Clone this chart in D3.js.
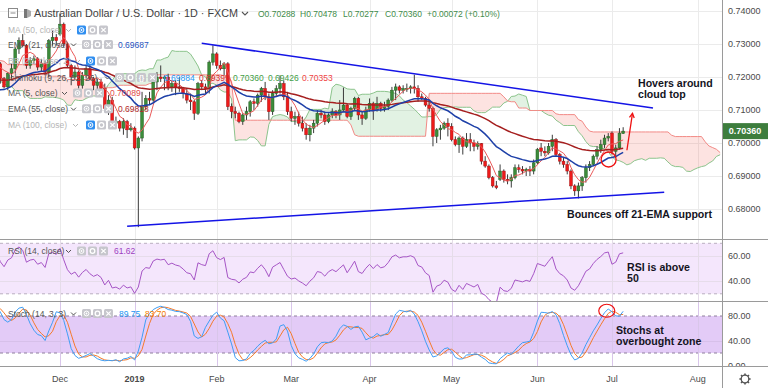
<!DOCTYPE html>
<html><head><meta charset="utf-8">
<script src="https://cdn.jsdelivr.net/npm/d3@7"></script>
<style>
html,body{margin:0;padding:0;background:#fff;}
svg{display:block;font-family:"Liberation Sans",Arial,sans-serif;}
</style></head><body>
<svg id="chart" width="768" height="388"></svg>
<script>
// ---------------- DATA ----------------
const startDate = "2018-07-16";
const holidays = ["2018-12-25", "2019-01-01"];
// daily AUD/USD bars [open, high, low, close]
const ohlc = [
[.7415,.7430,.7395,.7420],[.7420,.7440,.7375,.7385],[.7385,.7420,.7370,.7395],[.7395,.7420,.7310,.7350],[.7350,.7430,.7345,.7425],
[.7425,.7430,.7390,.7420],[.7420,.7430,.7400,.7410],[.7410,.7440,.7395,.7430],[.7430,.7440,.7395,.7400],[.7400,.7410,.7375,.7390],
[.7390,.7410,.7380,.7400],[.7400,.7425,.7390,.7425],[.7425,.7430,.7400,.7405],[.7405,.7410,.7360,.7390],[.7390,.7420,.7380,.7400],
[.7400,.7405,.7370,.7385],[.7385,.7430,.7380,.7420],[.7420,.7435,.7400,.7410],[.7410,.7420,.7370,.7385],[.7385,.7390,.7300,.7310],
[.7310,.7320,.7265,.7290],[.7290,.7300,.7250,.7260],[.7260,.7270,.7200,.7240],[.7240,.7270,.7225,.7260],[.7260,.7320,.7255,.7310],
[.7310,.7335,.7300,.7325],[.7325,.7360,.7320,.7350],[.7350,.7360,.7315,.7335],[.7335,.7340,.7260,.7270],[.7270,.7335,.7240,.7320],
[.7320,.7335,.7310,.7325],[.7325,.7360,.7320,.7355],[.7355,.7365,.7310,.7330],[.7330,.7335,.7255,.7260],[.7260,.7265,.7185,.7190],
[.7190,.7205,.7185,.7195],[.7195,.7200,.7165,.7185],[.7185,.7195,.7145,.7170],[.7170,.7200,.7155,.7195],[.7195,.7200,.7120,.7120],
[.7120,.7140,.7100,.7130],[.7130,.7140,.7085,.7105],[.7105,.7180,.7100,.7175],[.7175,.7205,.7160,.7190],[.7190,.7210,.7150,.7160],
[.7160,.7175,.7145,.7170],[.7170,.7225,.7160,.7220],[.7220,.7255,.7205,.7250],[.7250,.7295,.7240,.7285],[.7285,.7315,.7270,.7275],
[.7275,.7280,.7225,.7265],[.7265,.7290,.7255,.7280],[.7280,.7295,.7250,.7285],[.7285,.7290,.7200,.7210],[.7210,.7240,.7205,.7225],
[.7225,.7240,.7200,.7235],[.7235,.7240,.7160,.7170],[.7170,.7175,.7110,.7115],[.7115,.7125,.7060,.7075],[.7075,.7090,.7055,.7065],
[.7065,.7070,.7040,.7050],[.7050,.7090,.7040,.7080],[.7080,.7095,.7065,.7075],[.7075,.7125,.7060,.7115],[.7115,.7140,.7110,.7120],
[.7120,.7145,.7110,.7140],[.7140,.7145,.7105,.7135],[.7135,.7145,.7095,.7100],[.7100,.7125,.7075,.7085],[.7085,.7120,.7080,.7110],
[.7110,.7115,.7095,.7100],[.7100,.7105,.7055,.7080],[.7080,.7105,.7055,.7065],[.7065,.7095,.7050,.7085],[.7085,.7095,.7040,.7070],
[.7070,.7090,.7050,.7060],[.7060,.7075,.7020,.7050],[.7050,.7095,.7040,.7085],[.7085,.7195,.7080,.7190],[.7190,.7235,.7175,.7205],
[.7205,.7230,.7190,.7215],[.7215,.7250,.7195,.7240],[.7240,.7260,.7205,.7255],[.7255,.7265,.7225,.7240],
[.7240,.7245,.7180,.7195],
[.7195,.7200,.7165,.7170],[.7170,.7215,.7160,.7210],[.7210,.7240,.7195,.7225],[.7225,.7290,.7210,.7285],[.7285,.7320,.7270,.7310],
[.7310,.7330,.7290,.7295],[.7295,.7300,.7225,.7235],[.7235,.7260,.7225,.7250],[.7250,.7265,.7240,.7255],[.7255,.7260,.7220,.7230],
[.7230,.7255,.7215,.7240],[.7240,.7250,.7205,.7215],[.7215,.7315,.7200,.7310],[.7310,.7340,.7295,.7320],[.7320,.7330,.7295,.7310],
[.7330,.7393,.7325,.7360],[.7360,.7365,.7290,.7300],[.7300,.7305,.7230,.7235],[.7235,.7240,.7175,.7200],[.7200,.7235,.7195,.7215],
[.7215,.7220,.7165,.7175],[.7175,.7215,.7165,.7205],[.7205,.7235,.7195,.7225],[.7225,.7240,.7190,.7195],[.7195,.7200,.7160,.7175],
[.7175,.7195,.7155,.7185],[.7185,.7195,.7150,.7165],[.7165,.7180,.7095,.7105],[.7105,.7145,.7085,.7130],[.7130,.7140,.7045,.7060],
[.7060,.7080,.7045,.7065],[.7065,.7070,.7035,.7045],[.7045,.7075,.7025,.7065],[.7065,.7070,.7015,.7040],
[.7040,.7060,.7035,.7045],
[.7045,.7050,.6980,.6985],[.6985,.7020,.6745,.7015],[.7015,.7155,.7005,.7110],
[.7110,.7145,.7100,.7135],[.7135,.7155,.7115,.7130],[.7130,.7190,.7125,.7185],[.7185,.7215,.7160,.7200],[.7200,.7235,.7185,.7195],
[.7195,.7205,.7160,.7200],[.7200,.7210,.7160,.7170],[.7170,.7190,.7155,.7180],[.7180,.7190,.7145,.7170],[.7170,.7200,.7155,.7165],
[.7165,.7170,.7135,.7150],[.7150,.7165,.7120,.7130],[.7130,.7150,.7100,.7125],[.7125,.7130,.7070,.7090],[.7090,.7185,.7085,.7180],
[.7180,.7190,.7160,.7170],[.7170,.7180,.7150,.7165],[.7165,.7250,.7150,.7245],[.7245,.7296,.7235,.7270],[.7270,.7275,.7225,.7235],
[.7235,.7250,.7220,.7225],[.7225,.7245,.7205,.7240],[.7240,.7245,.7100,.7110],[.7110,.7120,.7075,.7095],[.7095,.7110,.7075,.7090],
[.7090,.7095,.7060,.7065],[.7065,.7090,.7055,.7085],[.7085,.7110,.7070,.7095],[.7095,.7130,.7080,.7125],[.7125,.7135,.7100,.7120],
[.7120,.7150,.7110,.7145],[.7145,.7170,.7125,.7165],[.7165,.7185,.7130,.7140],[.7140,.7150,.7070,.7095],[.7095,.7160,.7085,.7150],
[.7150,.7175,.7140,.7165],[.7165,.7205,.7150,.7180],[.7180,.7190,.7130,.7140],[.7140,.7155,.7085,.7095],[.7095,.7110,.7065,.7075],
[.7075,.7095,.7055,.7080],[.7080,.7095,.7050,.7060],[.7060,.7080,.7035,.7045],[.7045,.7060,.7010,.7025],[.7025,.7055,.7005,.7045],
[.7045,.7070,.7030,.7060],[.7060,.7100,.7050,.7090],[.7090,.7100,.7075,.7085],[.7085,.7095,.7055,.7065],[.7065,.7090,.7060,.7085],
[.7085,.7105,.7075,.7095],[.7095,.7100,.7075,.7085],[.7085,.7130,.7070,.7100],[.7100,.7168,.7095,.7115],[.7115,.7120,.7075,.7080],
[.7080,.7110,.7070,.7105],[.7105,.7140,.7100,.7135],[.7135,.7140,.7070,.7085],[.7085,.7095,.7055,.7075],[.7075,.7110,.7070,.7100],
[.7100,.7135,.7095,.7120],[.7120,.7125,.7070,.7100],[.7100,.7140,.7095,.7120],[.7120,.7125,.7095,.7105],[.7105,.7125,.7095,.7110],
[.7110,.7135,.7100,.7130],[.7130,.7170,.7125,.7160],[.7160,.7180,.7130,.7170],[.7170,.7175,.7150,.7160],[.7160,.7175,.7150,.7165],
[.7165,.7180,.7155,.7165],[.7165,.7175,.7150,.7170],[.7170,.7207,.7150,.7165],[.7165,.7175,.7125,.7140],[.7140,.7150,.7130,.7135],
[.7135,.7140,.7110,.7115],[.7115,.7130,.7095,.7105],[.7105,.7110,.6990,.7020],[.7020,.7045,.7000,.7040],[.7040,.7055,.7010,.7045],
[.7045,.7065,.7040,.7060],[.7060,.7075,.7020,.7050],[.7050,.7060,.7005,.7010],[.7010,.7020,.6990,.6995],[.6995,.7020,.6970,.7015],
[.7015,.7020,.6965,.6990],[.6990,.7030,.6985,.7010],[.7010,.7030,.6975,.7000],[.7000,.7010,.6975,.6990],[.6990,.7005,.6980,.6998],
[.6998,.7000,.6935,.6945],[.6945,.6960,.6925,.6930],[.6930,.6935,.6890,.6895],[.6895,.6900,.6865,.6870],[.6870,.6885,.6860,.6865],
[.6890,.6935,.6885,.6915],[.6915,.6920,.6880,.6890],[.6890,.6905,.6875,.6885],[.6885,.6905,.6865,.6895],[.6895,.6935,.6890,.6925],
[.6925,.6935,.6910,.6920],[.6920,.6930,.6905,.6915],[.6915,.6925,.6900,.6920],[.6920,.6930,.6900,.6915],[.6915,.6950,.6905,.6940],
[.6940,.6985,.6935,.6980],[.6985,.7000,.6960,.6975],[.6975,.6990,.6960,.6970],[.6970,.7000,.6965,.6990],[.6990,.7025,.6975,.7010],
[.7010,.7015,.6960,.6965],[.6965,.6970,.6935,.6945],[.6945,.6955,.6925,.6935],[.6935,.6945,.6905,.6915],[.6915,.6920,.6860,.6870],
[.6870,.6875,.6840,.6855],[.6855,.6880,.6832,.6870],[.6870,.6900,.6855,.6895],[.6895,.6935,.6880,.6925],[.6925,.6945,.6915,.6935],
[.6935,.6965,.6930,.6960],[.6960,.6990,.6950,.6980],[.6980,.7010,.6970,.6995],[.6995,.7025,.6985,.7015],[.7015,.7030,.7005,.7020],
[.7030,.7035,.6965,.6975],[.6975,.6995,.6955,.6985],[.6985,.7045,.6980,.7030],[.70288,.70478,.70277,.70360]
];
const firstVisibleDate = "2018-11-09";
const lastAxisDate = "2019-08-01";
const priceTicks = [0.74, 0.73, 0.72, 0.71, 0.70, 0.69, 0.68];
const rsiTicks = [60, 40];
const rsiBand = [70, 30];
const stochTicks = [80, 40, 0];
const stochBand = [80, 20];
const monthTicks = [
  {label:"Dec", date:"2018-12-03"}, {label:"2019", date:"2019-01-02", bold:true},
  {label:"Feb", date:"2019-02-01"}, {label:"Mar", date:"2019-03-01"},
  {label:"Apr", date:"2019-04-01"}, {label:"May", date:"2019-05-01"},
  {label:"Jun", date:"2019-06-03"}, {label:"Jul", date:"2019-07-01"},
  {label:"Aug", date:"2019-08-01"}
];
const trendLines = [
  {d1:"2019-01-28", p1:0.7302, d2:"2019-07-16", p2:0.7106},
  {d1:"2018-12-28", p1:0.6748, d2:"2019-07-19", p2:0.6851}
];
const arrowUp = {d1:"2019-07-05", p1:0.6978, d2:"2019-07-08", p2:0.7090, dx2:0.5};
const circleMain = {date:"2019-07-01", dx:-0.9, price:0.6950};
const circleStoch = {date:"2019-06-28", dx:-0.4, value:88.5};
const headerTitle = "Australian Dollar / U.S. Dollar · 1D · FXCM";
const headerOHLC = [["O0.70288",258],["H0.70478",300],["L0.70277",343],["C0.70360",385],["+0.00072 (+0.10%)",427]];
const notes = [
  {lines:["Hovers around","cloud top"], x:638, y:87},
  {lines:["Bounces off 21-EMA support"], x:567, y:218},
  {lines:["RSI is above","50"], x:627, y:271},
  {lines:["Stochs at","overbought zone"], x:616, y:334}
];

// ---------------- DATES ----------------
const pad = n => String(n).padStart(2,"0");
const iso = d => d.getUTCFullYear()+"-"+pad(d.getUTCMonth()+1)+"-"+pad(d.getUTCDate());
const dates = [];
{
  let d = new Date(startDate+"T00:00:00Z");
  while (dates.length < ohlc.length + 40) {
    const wd = d.getUTCDay();
    if (wd !== 0 && wd !== 6 && !holidays.includes(iso(d))) dates.push(iso(d));
    d = new Date(d.getTime() + 86400000);
  }
}
const idx = s => dates.indexOf(s);
const N = ohlc.length;

// ---------------- INDICATORS ----------------
const closes = ohlc.map(d => d[3]);
function smaN(arr, n){ return arr.map((v,i)=>{ if(i<n-1) return null; const w=arr.slice(i-n+1,i+1); if(w.some(x=>x==null)) return null; return d3.mean(w); }); }
function emaN(arr, n){ const k=2/(n+1); let prev=null; return arr.map((v,i)=>{ if(i<n-1) return null; if(prev===null) prev=d3.mean(arr.slice(0,n)); else prev=v*k+prev*(1-k); return prev; }); }
function rsiN(arr, n){ const out=Array(arr.length).fill(null); let ag=0, al=0;
  for(let i=1;i<arr.length;i++){ const ch=arr[i]-arr[i-1]; const g=Math.max(ch,0), l=Math.max(-ch,0);
    if(i<=n){ ag+=g/n; al+=l/n; if(i===n) out[i]=100-100/(1+ag/al); }
    else { ag=(ag*(n-1)+g)/n; al=(al*(n-1)+l)/n; out[i]= al===0?100:100-100/(1+ag/al); } }
  return out; }
const ma5 = smaN(closes,5), ema21 = emaN(closes,21), ema55 = emaN(closes,55);
const rsi = rsiN(closes,14);
const stRaw = ohlc.map((d,i)=>{ if(i<13) return null; const w=ohlc.slice(i-13,i+1); const hh=d3.max(w,e=>e[1]), ll=d3.min(w,e=>e[2]); return 100*(d[3]-ll)/(hh-ll); });
const stK = smaN(stRaw,3), stD = smaN(stK,3);
const midHL = (i,n)=>{ if(i<n-1) return null; const w=ohlc.slice(i-n+1,i+1); return (d3.max(w,e=>e[1])+d3.min(w,e=>e[2]))/2; };
const SHIFT = 26;
const leadA = Array(N+SHIFT).fill(null), leadB = Array(N+SHIFT).fill(null);
for(let i=0;i<N;i++){ const c=midHL(i,9), b=midHL(i,26), s=midHL(i,52);
  if(c!=null && b!=null) leadA[i+SHIFT]=(c+b)/2; if(s!=null) leadB[i+SHIFT]=s; }

// ---------------- SCALES ----------------
const W = 768, PR = 722;
const x = d3.scaleLinear().domain([idx(firstVisibleDate)-0.09, idx(lastAxisDate)+6.5]).range([0, PR]);
const y = d3.scaleLinear().domain([0.68, 0.74]).range([209, 11]);
const yR = d3.scaleLinear().domain([30, 70]).range([293.8, 243.3]);
const yS = d3.scaleLinear().domain([20, 80]).range([353, 316]);
const MAIN = [0, 239], RSIP = [240, 301], STP = [302, 366];

const svg = d3.select("#chart");
const defs = svg.append("defs");
function clip(id, y0, y1, x0=0, x1=PR){ defs.append("clipPath").attr("id",id).append("rect").attr("x",x0).attr("y",y0).attr("width",x1-x0).attr("height",y1-y0); }
clip("cMain", MAIN[0], MAIN[1]); clip("cRsi", RSIP[0], RSIP[1]); clip("cSt", STP[0], STP[1]);
clip("cStAxis", STP[0], STP[1], PR, W);

const GRID = "#ebebeb", SEP = "#9a9a9a", AX = "#4a4a4a";

// grid verticals
const gridG = svg.append("g");
monthTicks.forEach(t => {
  const gx = Math.round(x(idx(t.date)))+0.5;
  gridG.append("line").attr("x1",gx).attr("x2",gx).attr("y1",0).attr("y2",366).attr("stroke",GRID);
});
priceTicks.forEach(p => { const gy=Math.round(y(p))+0.5; gridG.append("line").attr("x1",0).attr("x2",PR).attr("y1",gy).attr("y2",gy).attr("stroke",GRID); });

// ---------------- MAIN PANE ----------------
const main = svg.append("g").attr("clip-path","url(#cMain)");
const cloudIdx = d3.range(N+SHIFT).filter(i => leadA[i]!=null && leadB[i]!=null && i >= idx(firstVisibleDate)-2);
main.append("path").datum(cloudIdx).attr("fill","rgba(76,175,80,0.16)")
  .attr("d", d3.area().x(i=>x(i)).y0(i=>y(leadB[i])).y1(i=>y(Math.max(leadA[i],leadB[i]))));
main.append("path").datum(cloudIdx).attr("fill","rgba(244,67,54,0.15)")
  .attr("d", d3.area().x(i=>x(i)).y0(i=>y(leadA[i])).y1(i=>y(Math.max(leadA[i],leadB[i]))));
main.append("path").datum(cloudIdx).attr("fill","none").attr("stroke","#8cc48c").attr("stroke-width",1)
  .attr("d", d3.line().x(i=>x(i)).y(i=>y(leadA[i])));
main.append("path").datum(cloudIdx).attr("fill","none").attr("stroke","#f28a86").attr("stroke-width",1)
  .attr("d", d3.line().x(i=>x(i)).y(i=>y(leadB[i])));

// candles
const vis = d3.range(N).filter(i => i >= idx(firstVisibleDate)-1);
const cg = main.append("g");
vis.forEach(i => {
  const [o,h,l,c] = ohlc[i]; const up = c >= o; const cx = x(i);
  cg.append("line").attr("x1",cx).attr("x2",cx).attr("y1",y(h)).attr("y2",y(l)).attr("stroke","#3a3a3a").attr("stroke-width",1);
  const top = y(Math.max(o,c)), bot = y(Math.min(o,c));
  cg.append("rect").attr("x",cx-1.4).attr("width",2.8).attr("y",top).attr("height",Math.max(bot-top,0.8))
    .attr("fill", up ? "#3c8c3a" : "#ee1a1a").attr("stroke", up ? "#245f22" : "#a81212").attr("stroke-width",0.5);
});
// moving averages
const lineOf = arr => d3.line().defined(i=>arr[i]!=null).x(i=>x(i)).y(i=>y(arr[i]));
main.append("path").datum(vis).attr("fill","none").attr("stroke","#ea5a5a").attr("stroke-width",1).attr("d", lineOf(ma5));
main.append("path").datum(vis).attr("fill","none").attr("stroke","#a51f1f").attr("stroke-width",1.5).attr("d", lineOf(ema55));
main.append("path").datum(vis).attr("fill","none").attr("stroke","#1e40a8").attr("stroke-width",1.5).attr("d", lineOf(ema21));
// trend lines
trendLines.forEach(t => main.append("line").attr("x1",x(idx(t.d1))).attr("y1",y(t.p1)).attr("x2",x(idx(t.d2))).attr("y2",y(t.p2))
  .attr("stroke","#1414e6").attr("stroke-width",1.5));
// red annotations
{
  const x1=x(idx(arrowUp.d1)), y1=y(arrowUp.p1), x2=x(idx(arrowUp.d2)+arrowUp.dx2), y2=y(arrowUp.p2);
  main.append("line").attr("x1",x1).attr("y1",y1).attr("x2",x2).attr("y2",y2).attr("stroke","#ee1111").attr("stroke-width",1.3);
  const ang = Math.atan2(y2-y1, x2-x1), L=5;
  const a1=ang+Math.PI-0.5, a2=ang+Math.PI+0.5;
  main.append("path").attr("d",`M${x2+L*Math.cos(a1)},${y2+L*Math.sin(a1)}L${x2},${y2}L${x2+L*Math.cos(a2)},${y2+L*Math.sin(a2)}`)
    .attr("fill","none").attr("stroke","#ee1111").attr("stroke-width",1.3);
  main.append("circle").attr("cx",x(idx(circleMain.date)+circleMain.dx)).attr("cy",y(circleMain.price)).attr("r",7.5)
    .attr("fill","none").attr("stroke","#ee1111").attr("stroke-width",1.3);
}

// ---------------- RSI PANE ----------------
const rp = svg.append("g").attr("clip-path","url(#cRsi)");
rp.append("rect").attr("x",0).attr("width",PR).attr("y",yR(rsiBand[0])).attr("height",yR(rsiBand[1])-yR(rsiBand[0])).attr("fill","#f4e6fc");
rsiTicks.forEach(v => rp.append("line").attr("x1",0).attr("x2",PR).attr("y1",Math.round(yR(v))+0.5).attr("y2",Math.round(yR(v))+0.5).attr("stroke","#e6dcea"));
rsiBand.forEach(v => rp.append("line").attr("x1",0).attr("x2",PR).attr("y1",yR(v)).attr("y2",yR(v)).attr("stroke","#b9aec0").attr("stroke-dasharray","3,3"));
monthTicks.forEach(t => { const gx=Math.round(x(idx(t.date)))+0.5; rp.append("line").attr("x1",gx).attr("x2",gx).attr("y1",RSIP[0]).attr("y2",RSIP[1]).attr("stroke","#e5dce9"); });
rp.append("path").datum(vis).attr("fill","none").attr("stroke","#a655c6").attr("stroke-width",1)
  .attr("d", d3.line().defined(i=>rsi[i]!=null).x(i=>x(i)).y(i=>yR(rsi[i])));

// ---------------- STOCH PANE ----------------
const sp = svg.append("g").attr("clip-path","url(#cSt)");
sp.append("rect").attr("x",0).attr("width",PR).attr("y",yS(stochBand[0])).attr("height",yS(stochBand[1])-yS(stochBand[0])).attr("fill","#e3cbf7");
[40].forEach(v => sp.append("line").attr("x1",0).attr("x2",PR).attr("y1",Math.round(yS(v))+0.5).attr("y2",Math.round(yS(v))+0.5).attr("stroke","#d7c0ea"));
stochBand.forEach(v => sp.append("line").attr("x1",0).attr("x2",PR).attr("y1",yS(v)).attr("y2",yS(v)).attr("stroke","#8e7f9c").attr("stroke-dasharray","3,3"));
monthTicks.forEach(t => { const gx=Math.round(x(idx(t.date)))+0.5; sp.append("line").attr("x1",gx).attr("x2",gx).attr("y1",STP[0]).attr("y2",STP[1]).attr("stroke","#d9c6ea"); });
sp.append("path").datum(vis).attr("fill","none").attr("stroke","#f57a2c").attr("stroke-width",1)
  .attr("d", d3.line().defined(i=>stD[i]!=null).x(i=>x(i)).y(i=>yS(stD[i])));
sp.append("path").datum(vis).attr("fill","none").attr("stroke","#3f9ef5").attr("stroke-width",1)
  .attr("d", d3.line().defined(i=>stK[i]!=null).x(i=>x(i)).y(i=>yS(stK[i])));
sp.append("ellipse").attr("cx",x(idx(circleStoch.date)+circleStoch.dx)).attr("cy",yS(circleStoch.value)).attr("rx",8).attr("ry",6.5)
  .attr("fill","none").attr("stroke","#ee1111").attr("stroke-width",1.2);

// ---------------- SEPARATORS / AXES ----------------
[[239.5],[301.5],[366.5]].forEach(([yy]) => svg.append("line").attr("x1",0).attr("x2",W).attr("y1",yy).attr("y2",yy).attr("stroke",SEP));
svg.append("line").attr("x1",PR+0.5).attr("x2",PR+0.5).attr("y1",0).attr("y2",388).attr("stroke",SEP);

const fmtP = d3.format(".5f"), fmt2 = d3.format(".2f");
priceTicks.forEach(p => svg.append("text").attr("x",728).attr("y",y(p)+3.2).attr("font-size",9).attr("fill",AX).text(fmtP(p)));
rsiTicks.forEach(v => svg.append("text").attr("x",728).attr("y",yR(v)+3.2).attr("font-size",9).attr("fill",AX).text(fmt2(v)));
const stAx = svg.append("g").attr("clip-path","url(#cStAxis)");
stochTicks.forEach(v => stAx.append("text").attr("x",728).attr("y",yS(v)+3.2).attr("font-size",9).attr("fill",AX).text(fmt2(v)));
monthTicks.forEach(t => svg.append("text").attr("x",x(idx(t.date))).attr("y",382).attr("text-anchor","middle")
  .attr("font-size",9).attr("font-weight",t.bold?"bold":"normal").attr("fill",AX).text(t.label));

// last price label
{
  const cy = y(closes[N-1]);
  svg.append("rect").attr("x",PR+1).attr("y",cy-8).attr("width",W-PR-1).attr("height",16).attr("fill","#3d7d3d");
  svg.append("text").attr("x",745).attr("y",cy+3.3).attr("text-anchor","middle").attr("font-size",9).attr("font-weight","bold").attr("fill","#fff").text(fmtP(closes[N-1]));
}
// gear icon
{
  const g = svg.append("g").attr("transform","translate(745,379)").attr("stroke","#555").attr("fill","none");
  g.append("circle").attr("r",3.8).attr("stroke-width",1.3);
  d3.range(8).forEach(k => { const a=k*Math.PI/4; g.append("line").attr("x1",3.8*Math.cos(a)).attr("y1",3.8*Math.sin(a)).attr("x2",5.6*Math.cos(a)).attr("y2",5.6*Math.sin(a)).attr("stroke-width",1.6); });
}

// ---------------- HEADER & LEGENDS ----------------
svg.append("rect").attr("x",8.5).attr("y",8.5).attr("width",9).attr("height",9).attr("fill","none").attr("stroke","#8a8a8a");
svg.append("line").attr("x1",10.5).attr("x2",15.5).attr("y1",13).attr("y2",13).attr("stroke","#8a8a8a");
svg.append("rect").attr("x",24).attr("y",9).attr("width",3).attr("height",9).attr("fill","#777");
svg.append("path").attr("d","M27,9L31,11L31,16L27,18Z").attr("fill","#aaa");
svg.append("text").attr("x",34).attr("y",17).attr("font-size",10.8).attr("fill","#3f3f3f").text(headerTitle);
svg.append("path").attr("d","M242,12l3,3l3,-3").attr("fill","none").attr("stroke","#555").attr("stroke-width",1.1);
headerOHLC.forEach(([t,xx]) => svg.append("text").attr("x",xx).attr("y",16.5).attr("font-size",8.5).attr("fill","#3f8c4a").text(t));

function icon(g, xx, yc, type, blue){
  g.append("rect").attr("x",xx).attr("y",yc-4.5).attr("width",9).attr("height",9).attr("rx",1.5).attr("fill", blue?"#2f8ef0":"#c6c6cc");
  const cx=xx+4.5, cy=yc;
  if(type==="eye"){ g.append("circle").attr("cx",cx).attr("cy",cy).attr("r",2.4).attr("fill","none").attr("stroke","#fff").attr("stroke-width",1); g.append("circle").attr("cx",cx).attr("cy",cy).attr("r",0.9).attr("fill","#fff"); }
  else if(type==="gear"){ g.append("circle").attr("cx",cx).attr("cy",cy).attr("r",2.3).attr("fill","none").attr("stroke","#fff").attr("stroke-width",1.3); }
  else if(type==="code"){ g.append("text").attr("x",cx).attr("y",cy+2.5).attr("text-anchor","middle").attr("font-size",7).attr("font-weight","bold").attr("fill","#fff").text("{}"); }
  else { g.append("path").attr("d",`M${cx-2.2},${cy-2.2}L${cx+2.2},${cy+2.2}M${cx+2.2},${cy-2.2}L${cx-2.2},${cy+2.2}`).attr("stroke","#fff").attr("stroke-width",1.2); }
}
const legendRows = [
  {y:30, text:"MA (50, close)", faded:true, chev:66, icons:[[77,"eye",true],[88,"gear"],[99,"x"]], vals:[]},
  {y:44.5, text:"EMA (21, close)", chev:71, icons:[[82,"eye"],[93,"gear"],[104,"x"]], vals:[["0.69687",118,"#2a54c0"]]},
  {y:61, text:"BB (20, close, 2)", faded:true, chev:75, icons:[[86,"eye",true],[97,"gear"],[108,"x"]], vals:[]},
  {y:77.5, text:"Ichimoku (9, 26, 52, 26)", chev:105, icons:[[115,"eye"],[126,"gear"],[137,"code"],[148,"x"]],
    vals:[["0.69884",164,"#2196f3"],["0.69399",199,"#d32f2f"],["0.70360",233,"#43a047"],["0.69426",268,"#43a047"],["0.70353",302,"#ef4444"]]},
  {y:93, text:"MA (5, close)", chev:62, icons:[[73,"eye"],[84,"gear"],[95,"x"]], vals:[["0.70089",110,"#e04a4a"]]},
  {y:108.7, text:"EMA (55, close)", chev:71, icons:[[82,"eye"],[93,"gear"],[104,"x"]], vals:[["0.69818",118,"#b22a2a"]]},
  {y:125, text:"MA (100, close)", faded:true, chev:73, icons:[[86,"eye",true],[97,"gear"],[108,"x"]], vals:[]},
  {y:251, text:"RSI (14, close)", chev:66, icons:[[77,"eye"],[88,"gear"],[99,"x"]], vals:[["61.62",114,"#9c3fbf"]]},
  {y:313.5, text:"Stoch (14, 3, 3)", chev:71, icons:[[82,"eye"],[93,"gear"],[104,"x"]], vals:[["89.75",119,"#2196f3"],["83.70",145,"#f57c00"]]}
];
const lg = svg.append("g");
legendRows.forEach(r => {
  const col = r.faded ? "#b5b5b5" : "#555";
  lg.append("text").attr("x",8).attr("y",r.y+3).attr("font-size",8.5).attr("fill",col).text(r.text);
  lg.append("path").attr("d",`M${r.chev},${r.y-1}l2.5,2.5l2.5,-2.5`).attr("fill","none").attr("stroke",col).attr("stroke-width",1);
  r.icons.forEach(([xx,t,b]) => icon(lg, xx, r.y, t, b));
  r.vals.forEach(([t,xx,c]) => lg.append("text").attr("x",xx).attr("y",r.y+3).attr("font-size",8.5).attr("fill",c).text(t));
});

// ---------------- NOTES ----------------
notes.forEach(n => n.lines.forEach((ln,k) => svg.append("text").attr("x",n.x).attr("y",n.y+k*11).attr("font-size",10.6)
  .attr("font-weight","bold").attr("fill","#14141e").text(ln)));
</script>
</body></html>
